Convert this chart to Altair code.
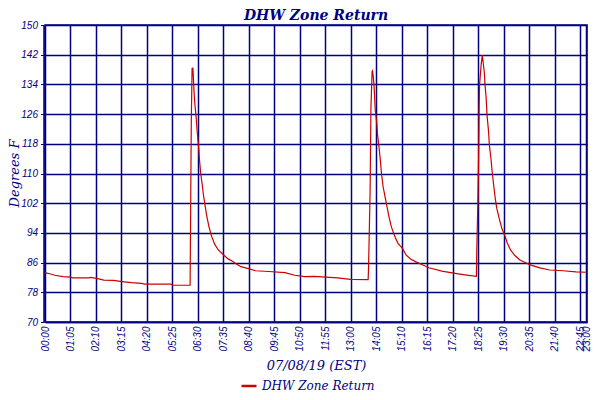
import altair as alt
import pandas as pd

# minutes after midnight, 07/08/19
minutes = [
    0, 12, 25, 46, 65, 71, 112, 117, 137, 150, 175, 196, 221, 246, 254, 321, 327, 370,
    371, 373, 375, 377, 378, 380, 382, 386, 388, 392, 394, 397, 401, 404, 408, 412, 418,
    425, 433, 442, 454, 467, 479, 488, 500, 521, 537, 571, 612, 637, 662, 687, 746, 779, 824,
    825, 827, 829, 831, 834, 835, 837, 839, 842, 846, 848, 852, 855, 858, 862, 867, 872, 877,
    883, 892, 900, 911, 921, 933, 946, 962, 979, 1012, 1046, 1071, 1100,
    1101, 1104, 1106, 1107, 1108, 1112, 1115, 1117, 1120, 1122, 1125, 1127, 1131, 1133, 1137,
    1140, 1144, 1148, 1152, 1158, 1165, 1172, 1179, 1187, 1198, 1211, 1223, 1237, 1262, 1287,
    1321, 1354, 1379,
]
temps = [
    83.3, 83.0, 82.6, 82.2, 82.1, 81.9, 81.9, 82.0, 81.6, 81.3, 81.2, 80.9, 80.6, 80.4, 80.2, 80.2, 79.9, 79.9,
    94.6, 123.5, 138.3, 138.4, 136.5, 132.0, 128.9, 124.4, 121.3, 116.8, 113.6, 110.0, 106.9, 104.2, 101.5, 98.8, 95.7,
    93.0, 90.9, 89.4, 88.2, 87.0, 86.3, 85.6, 84.9, 84.3, 83.8, 83.6, 83.3, 82.6, 82.2, 82.3, 81.9, 81.5, 81.4,
    84.9, 94.8, 105.6, 127.1, 137.4, 137.6, 136.1, 133.6, 127.1, 123.5, 120.4, 116.8, 113.6, 110.0, 106.5, 103.8, 101.1, 98.4,
    95.7, 93.0, 91.2, 89.9, 88.0, 86.9, 86.2, 85.4, 84.6, 83.7, 83.1, 82.7, 82.3,
    89.4, 103.8, 116.8, 127.6, 133.8, 139.2, 141.9, 140.1, 137.4, 133.8, 130.2, 125.8, 121.3, 117.7, 114.1,
    110.6, 106.9, 103.3, 100.6, 97.9, 95.2, 93.4, 91.2, 89.4, 87.9, 86.7, 86.1, 85.4, 84.6, 84.0,
    83.8, 83.5, 83.4,
]

x_ticks = list(range(0, 1366, 65)) + [1380]
y_ticks = list(range(70, 151, 8))

NAVY = "#000080"

df = pd.DataFrame({"minute": minutes, "temp": temps, "series": "DHW Zone Return"})

hhmm = ("pad('' + floor(datum.value / 60), 2, '0', 'left') + ':' + "
        "pad('' + (datum.value % 60), 2, '0', 'left')")

chart = (
    alt.Chart(df)
    .mark_line(strokeWidth=1.2, interpolate="linear")
    .encode(
        x=alt.X(
            "minute:Q",
            scale=alt.Scale(domain=[0, 1382], nice=False, zero=False),
            axis=alt.Axis(
                values=x_ticks, labelExpr=hhmm, labelAngle=270, labelOverlap=False,
                labelFlush=False, tickSize=0, labelPadding=4,
                title="07/08/19 (EST)", titleY=43, titleBaseline="middle",
            ),
        ),
        y=alt.Y(
            "temp:Q",
            scale=alt.Scale(domain=[70, 150], nice=False, zero=False),
            axis=alt.Axis(
                values=y_ticks, labelOverlap=False, labelFlush=False, tickSize=3,
                offset=1.5, labelPadding=3,
                title="Degrees F", titleX=-29, titleY=148, titleAngle=270,
                titleAlign="center", titleBaseline="middle",
            ),
        ),
        color=alt.Color(
            "series:N",
            scale=alt.Scale(range=["#cc0000"]),
            legend=alt.Legend(
                title=None, orient="none", legendX=195, legendY=352,
                symbolType="stroke", symbolSize=225, symbolStrokeWidth=2.5,
                labelFont="DejaVu Serif", labelFontStyle="italic", labelFontSize=12,
                labelColor=NAVY,
            ),
        ),
    )
    .properties(
        width=542,
        height=297,
        autosize=alt.AutoSizeParams(type="none"),
        padding={"left": 37, "top": 17, "right": 5, "bottom": 70},
        title=alt.TitleParams(
            "DHW Zone Return", anchor="middle", font="DejaVu Serif", fontSize=14,
            fontStyle="italic", fontWeight="bold", color=NAVY, offset=4, dy=7,
        ),
    )
    .configure_view(stroke=NAVY, strokeWidth=1.5)
    .configure_axis(
        gridColor=NAVY, gridWidth=1.5, gridOpacity=1,
        domainColor=NAVY, domainWidth=1.5, tickColor=NAVY,
        labelFont="Liberation Sans", labelFontStyle="italic", labelFontSize=10,
        labelColor=NAVY,
        titleFont="DejaVu Serif", titleFontStyle="italic", titleFontWeight="normal",
        titleFontSize=13, titleColor=NAVY,
    )
)

chart.save("out.html", embed_options={"renderer": "svg", "actions": False})
